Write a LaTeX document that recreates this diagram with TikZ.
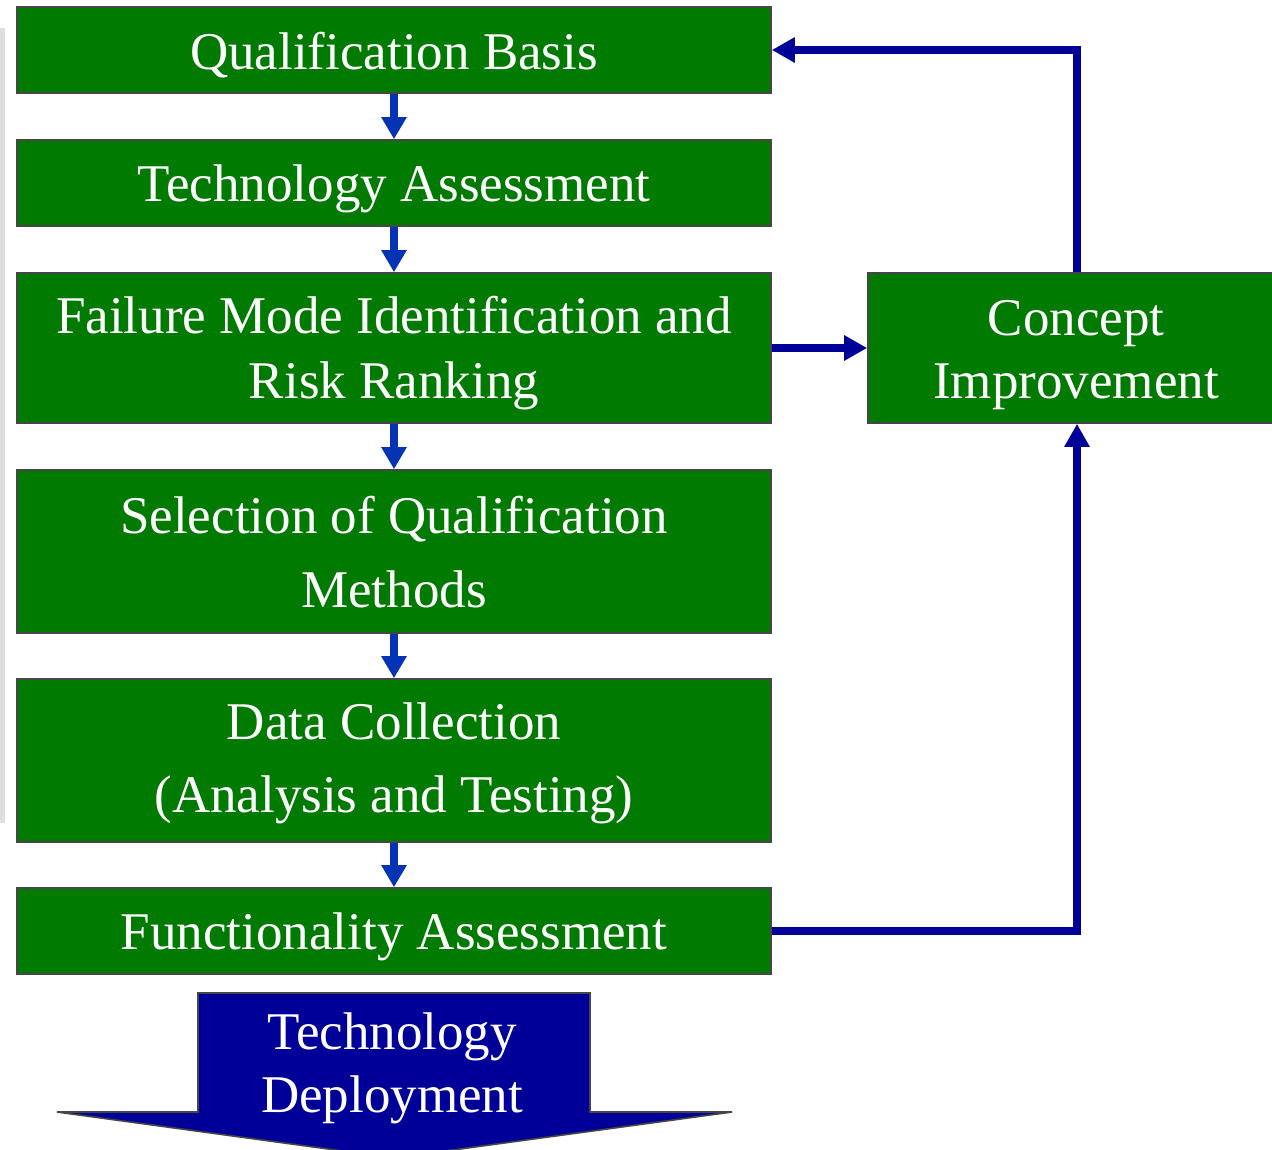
\documentclass[tikz,border=0pt]{standalone}
\usepackage{fontspec}
\setmainfont{Liberation Serif}
\usetikzlibrary{arrows.meta}
\definecolor{boxgreen}{RGB}{0,122,0}
\definecolor{boxborder}{RGB}{70,70,70}
\definecolor{flowblue}{RGB}{4,51,180}
\definecolor{loopnavy}{RGB}{0,0,153}
\definecolor{sidegray}{RGB}{222,222,222}
\tikzset{
  stepbox/.style={draw=boxborder, line width=1.6pt, fill=boxgreen,
    inner sep=0pt, minimum width=754pt},
  boxtext/.style={text=white, inner sep=0pt, align=center},
  flowarrow/.style={draw=flowblue, line width=8pt,
    -{Triangle[length=22pt,width=24pt]}},
  looparrow/.style={draw=loopnavy, line width=7.5pt,
    -{Triangle[length=23pt,width=24pt]}},
}
\begin{document}
\begin{tikzpicture}[x=1pt,y=-1pt]
\useasboundingbox (0,0) rectangle (1272,1149);
\clip (0,0) rectangle (1272,1149);
\fill[white] (0,0) rectangle (1272,1149);
% faint side bar
\fill[sidegray] (0,28) rectangle (5,823);

% boxes
\node[stepbox, minimum height=86pt] (qb) at (394,50) {};
\node[stepbox, minimum height=86pt] (ta) at (394,183) {};
\node[stepbox, minimum height=150pt] (fm) at (394,348) {};
\node[stepbox, minimum height=163pt] (sq) at (394,551.5) {};
\node[stepbox, minimum height=163pt] (dc) at (394,760.5) {};
\node[stepbox, minimum height=86pt] (fa) at (394,931) {};
\node[stepbox, minimum width=418pt, minimum height=150pt] (ci) at (1077,348) {};

% texts
\node[boxtext, font=\fontsize{53}{63}\selectfont] (qbt) at (394,55) {Qualification Basis};
\node[boxtext, font=\fontsize{53}{63}\selectfont] (tat) at (394,189) {Technology Assessment};
\node[boxtext, font=\fontsize{53}{65}\selectfont] (fmt) at (394,353)
  {Failure Mode Identification and\\Risk Ranking};
\node[boxtext, font=\fontsize{53}{74}\selectfont] (sqt) at (394,552.5)
  {Selection of Qualification\\Methods};
\node[boxtext, font=\fontsize{53}{73}\selectfont] (dct) at (394,763)
  {Data Collection\\(Analysis and Testing)};
\node[boxtext, font=\fontsize{53}{63}\selectfont] (fat) at (394,937) {Functionality Assessment};
\node[boxtext, font=\fontsize{53}{63}\selectfont] (cit) at (1076,355)
  {Concept\\Improvement};

% deployment arrow
\draw[draw=boxborder, line width=1.6pt, fill=loopnavy]
  (198,993) -- (590,993) -- (590,1112) -- (732,1112) -- (394,1158)
  -- (57,1112) -- (198,1112) -- cycle;
\node[boxtext, font=\fontsize{53}{63}\selectfont] (td) at (392,1068.5)
  {Technology\\Deployment};

% vertical flow arrows
\draw[flowarrow] (qb.south) -- (ta.north);
\draw[flowarrow] (ta.south) -- (fm.north);
\draw[flowarrow] (fm.south) -- (sq.north);
\draw[flowarrow] (sq.south) -- (dc.north);
\draw[flowarrow] (dc.south) -- (fa.north);

% loop arrows
\draw[looparrow] (fm.east) -- (ci.west);
\draw[looparrow] (fa.east) -| (ci.south);
\draw[looparrow] (ci.north) |- (qb.east);
\end{tikzpicture}
\end{document}
